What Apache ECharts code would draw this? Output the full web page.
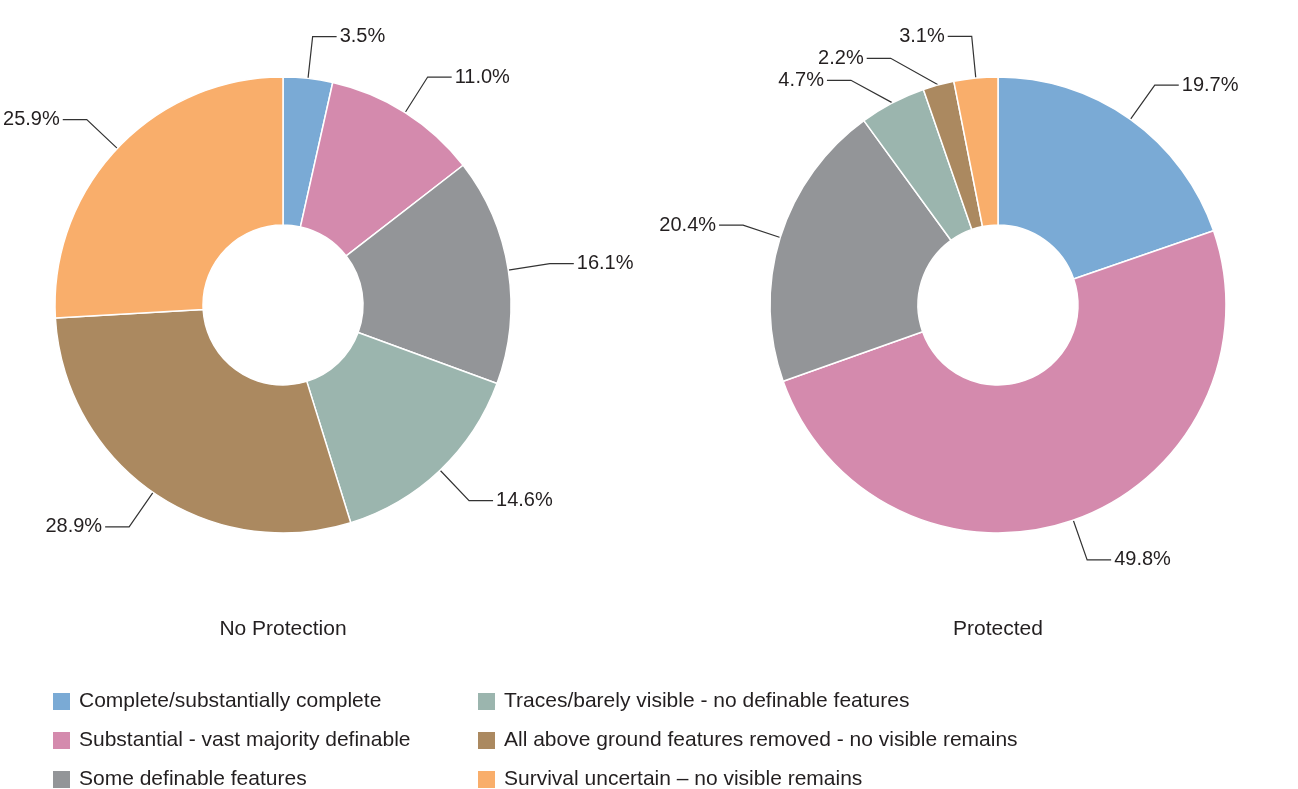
<!DOCTYPE html>
<html>
<head>
<meta charset="utf-8">
<script src="https://cdn.jsdelivr.net/npm/echarts@6/dist/echarts.min.js"></script>
<style>html,body{margin:0;padding:0;background:#fff}#c{width:1298px;height:789px}</style>
</head>
<body>
<div id="c"></div>
<script>
const categories = [
  'Complete/substantially complete',
  'Substantial - vast majority definable',
  'Some definable features',
  'Traces/barely visible - no definable features',
  'All above ground features removed - no visible remains',
  'Survival uncertain \u2013 no visible remains'
];
const colors = ['#7aaad5', '#d48aad', '#939598', '#9bb5ae', '#ab8960', '#f9ae6b'];
const noProtection = [3.5, 11.0, 16.1, 14.6, 28.9, 25.9];
const protectedVals = [19.7, 49.8, 20.4, 4.7, 2.2, 3.1];
const pieTitles = ['No Protection', 'Protected'];

const FONT = '"Liberation Sans", Arial, sans-serif';
function mk(vals){ return vals.map((v,i)=>({name:categories[i], value:v, itemStyle:{color:colors[i]}})); }
function pie(vals, cx){
  return {
    type:'pie', center:[cx,305], radius:[80,228], startAngle:90, clockwise:true,
    avoidLabelOverlap:true,
    data:mk(vals),
    itemStyle:{borderColor:'#fff', borderWidth:1.5},
    label:{formatter:p=>p.value.toFixed(1)+'%', fontFamily:FONT, fontSize:20, color:'#231f20', distanceToLabelLine:3, overflow:'none'},
    labelLine:{show:true, length:42, length2:24, lineStyle:{color:'#333', width:1.2}},
    emphasis:{disabled:true}
  };
}
const legendText = {fontFamily:FONT, fontSize:21, color:'#231f20', padding:[0,0,0,4]};
const legendBase = {orient:'vertical', top:691, height:110, padding:0, itemWidth:17, itemHeight:17, itemGap:18, icon:'rect',
  itemStyle:{borderWidth:0}, textStyle:legendText};
const chart = echarts.init(document.getElementById('c'));
chart.setOption({
  animation:false,
  title:[
    {text:pieTitles[0], left:283, top:619, textAlign:'center', padding:0, textStyle:{fontFamily:FONT, fontSize:21, fontWeight:'normal', color:'#231f20'}},
    {text:pieTitles[1], left:998, top:619, textAlign:'center', padding:0, textStyle:{fontFamily:FONT, fontSize:21, fontWeight:'normal', color:'#231f20'}}
  ],
  legend:[
    Object.assign({data:categories.slice(0,3), left:53}, legendBase),
    Object.assign({data:categories.slice(3,6), left:478}, legendBase)
  ],
  series:[pie(noProtection,283), pie(protectedVals,998)]
});
</script>
</body>
</html>
